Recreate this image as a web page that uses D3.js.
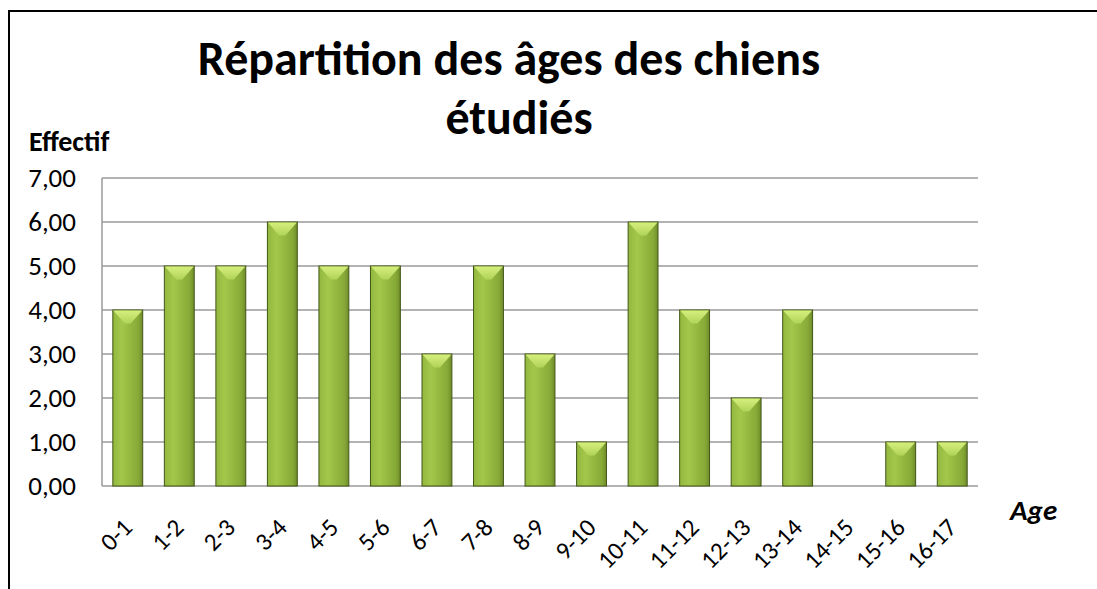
<!DOCTYPE html>
<html>
<head>
<meta charset="utf-8">
<script src="https://cdn.jsdelivr.net/npm/d3@7"></script>
<style>
  body { margin: 0; background: #fff; }
  text { font-family: Carlito, Calibri, Lato, sans-serif; fill: #000; }
</style>
</head>
<body>
<div id="chart-area"></div>
<script>
// tranches d'age et effectifs
var ages = ["0-1", "1-2", "2-3", "3-4", "4-5", "5-6", "6-7", "7-8", "8-9", "9-10",
  "10-11", "11-12", "12-13", "13-14", "14-15", "15-16", "16-17"]
var effectifs = [4, 5, 5, 6, 5, 5, 3, 5, 3, 1, 6, 4, 2, 4, 0, 1, 1]
var yTicks = [0, 1, 2, 3, 4, 5, 6, 7]

var W = 1097, H = 589
var plotLeft = 102, plotRight = 978, plotTop = 178, plotBottom = 486

var svg = d3.select("#chart-area").append("svg")
  .attr("width", W)
  .attr("height", H)

var defs = svg.append("defs")
var grad = defs.append("linearGradient").attr("id", "barGrad")
  .attr("x1", "0").attr("x2", "1").attr("y1", "0").attr("y2", "0")
grad.append("stop").attr("offset", "0").attr("stop-color", "#93b83f")
grad.append("stop").attr("offset", "0.3").attr("stop-color", "#a3c74a")
grad.append("stop").attr("offset", "0.85").attr("stop-color", "#87a937")
grad.append("stop").attr("offset", "1").attr("stop-color", "#6f8c2a")

var bevel = defs.append("linearGradient").attr("id", "bevelGrad")
  .attr("x1", "0").attr("x2", "0").attr("y1", "0").attr("y2", "1")
bevel.append("stop").attr("offset", "0").attr("stop-color", "#d6ef7e")
bevel.append("stop").attr("offset", "1").attr("stop-color", "#b0d358")

// cadre exterieur (coupe a droite et en bas)
svg.append("rect")
  .attr("x", 9).attr("y", 11)
  .attr("width", W + 20).attr("height", H + 20)
  .attr("fill", "none")
  .attr("stroke", "#000")
  .attr("stroke-width", 2)

var x = d3.scaleBand()
  .domain(ages)
  .range([plotLeft, plotRight])
  .paddingInner(0.42)
  .paddingOuter(0.21)

var y = d3.scaleLinear()
  .domain([0, 7])
  .range([plotBottom, plotTop])

// grille
svg.append("g")
  .selectAll("line")
  .data(yTicks)
  .enter()
  .append("line")
  .attr("x1", plotLeft)
  .attr("x2", plotRight)
  .attr("y1", function (d) { return y(d) })
  .attr("y2", function (d) { return y(d) })
  .attr("stroke", "#9a9a9a")
  .attr("stroke-width", 1.5)

svg.append("line")
  .attr("x1", plotLeft).attr("x2", plotLeft)
  .attr("y1", plotTop).attr("y2", plotBottom)
  .attr("stroke", "#9a9a9a")
  .attr("stroke-width", 1.5)

// etiquettes y
svg.append("g")
  .selectAll("text")
  .data(yTicks)
  .enter()
  .append("text")
  .attr("x", 76)
  .attr("y", function (d) { return y(d) })
  .attr("dy", "0.33em")
  .attr("text-anchor", "end")
  .attr("font-size", 27)
  .text(function (d) { return d3.format(".2f")(d).replace(".", ",") })

// barres
var data = ages.map(function (a, i) { return { age: a, v: effectifs[i] } })
  .filter(function (d) { return d.v > 0 })

var bars = svg.append("g").selectAll("g")
  .data(data)
  .enter()
  .append("g")

bars.append("rect")
  .attr("x", function (d) { return x(d.age) })
  .attr("y", function (d) { return y(d.v) })
  .attr("width", x.bandwidth())
  .attr("height", function (d) { return y(0) - y(d.v) })
  .attr("fill", "url(#barGrad)")
  .attr("stroke", "#435618")
  .attr("stroke-width", 1)

bars.append("path")
  .attr("d", function (d) {
    var x0 = x(d.age) + 0.5, x1 = x0 + x.bandwidth() - 1, y0 = y(d.v) + 0.5
    var m = (x0 + x1) / 2
    return "M" + x0 + "," + y0 + "L" + x1 + "," + y0 + "L" + (m + 3) + "," + (y0 + 13) +
      "L" + (m - 3) + "," + (y0 + 13) + "Z"
  })
  .attr("fill", "url(#bevelGrad)")
  .attr("stroke", "none")

// etiquettes x
svg.append("g")
  .selectAll("text")
  .data(ages)
  .enter()
  .append("text")
  .attr("transform", function (d) {
    return "translate(" + (x(d) + x.bandwidth() / 2 + 6) + "," + 529 + ") rotate(-45)"
  })
  .attr("text-anchor", "end")
  .attr("font-size", 25)
  .text(function (d) { return d })

// titres
var title = svg.append("text")
  .attr("text-anchor", "middle")
  .attr("font-weight", "bold")
  .attr("font-size", 48)
title.append("tspan").attr("x", 509).attr("y", 75).text("Répartition des âges des chiens")
title.append("tspan").attr("x", 519).attr("y", 134).text("étudiés")

svg.append("text")
  .attr("x", 29).attr("y", 151)
  .attr("font-weight", "bold")
  .attr("font-size", 28)
  .text("Effectif")

svg.append("text")
  .attr("x", 1010).attr("y", 520)
  .attr("font-weight", "bold")
  .attr("font-style", "italic")
  .attr("font-size", 29)
  .text("Age")
</script>
</body>
</html>
